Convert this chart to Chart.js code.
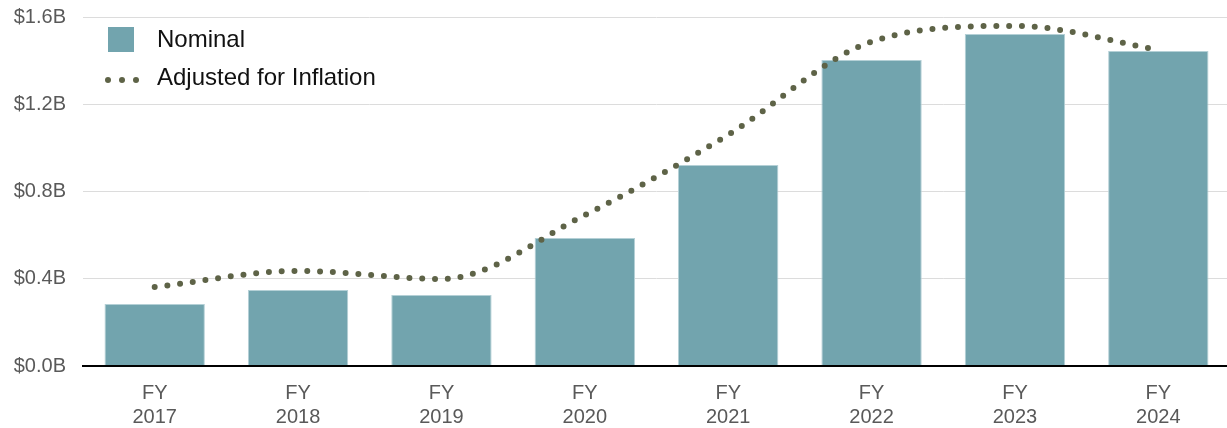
<!DOCTYPE html>
<html>
<head>
<meta charset="utf-8">
<script src="https://cdn.jsdelivr.net/npm/chart.js@4/dist/chart.umd.min.js"></script>
<style>
  html, body { margin: 0; padding: 0; background: #fff; overflow: hidden; }
  .wrap { position: relative; width: 1230px; height: 428px; }
  .legend { position: absolute; left: 0; top: 0; font-family: "Liberation Sans", Arial, sans-serif; font-size: 24px; color: #111; }
  .legend .item { position: absolute; white-space: nowrap; }
  .legend .box { position: absolute; left: 108px; top: 27px; width: 26px; height: 25px; background: #72a4ae; }
  .legend .dot { position: absolute; width: 6px; height: 6px; border-radius: 50%; background: #5e6347; }
</style>
</head>
<body>
<div class="wrap">
  <canvas id="chart" width="1230" height="428"></canvas>
  <div class="legend">
    <div class="box"></div>
    <div class="item" style="left:157px; top:25px;">Nominal</div>
    <div class="dot" style="left:105px; top:77px;"></div>
    <div class="dot" style="left:119px; top:77px;"></div>
    <div class="dot" style="left:133px; top:77px;"></div>
    <div class="item" style="left:157px; top:63px;">Adjusted for Inflation</div>
  </div>
</div>
<script>
// values in $ billions
const years = ['2017', '2018', '2019', '2020', '2021', '2022', '2023', '2024'];
const nominal = [0.284, 0.348, 0.326, 0.587, 0.922, 1.403, 1.522, 1.444];
const adjusted = [0.362, 0.436, 0.399, 0.692, 1.06, 1.487, 1.559, 1.45];
const yTicks = [0, 0.4, 0.8, 1.2, 1.6];

const labels = years.map(y => ['FY', y]);
const tickFont = { family: '"Liberation Sans", Arial, sans-serif', size: 20 };

new Chart(document.getElementById('chart'), {
  type: 'bar',
  data: {
    labels: labels,
    datasets: [
      {
        type: 'line',
        label: 'Adjusted for Inflation',
        data: adjusted,
        borderColor: '#5e6347',
        borderWidth: 6,
        borderDash: [0, 12.8],
        borderCapStyle: 'round',
        cubicInterpolationMode: 'monotone',
        pointRadius: 0,
        fill: false,
        order: 0
      },
      {
        label: 'Nominal',
        data: nominal,
        backgroundColor: '#72a4ae',
        borderColor: '#b4d0d6',
        borderWidth: 1,
        barPercentage: 0.7,
        categoryPercentage: 1,
        order: 1
      }
    ]
  },
  options: {
    responsive: false,
    animation: false,
    layout: { padding: { top: 17 } },
    plugins: {
      legend: { display: false },
      tooltip: { enabled: false }
    },
    scales: {
      x: {
        grid: { display: false, drawTicks: false },
        border: { display: true, color: '#000', width: 2 },
        ticks: { color: '#595959', font: tickFont, padding: 15, maxRotation: 0 },
        afterFit: (axis) => { axis.height = 62; }
      },
      y: {
        min: 0,
        max: 1.6,
        afterBuildTicks: (axis) => { axis.ticks = yTicks.map(v => ({ value: v })); },
        grid: {
          drawTicks: false,
          color: (c) => c.tick && c.tick.value === 0 ? '#000' : '#dcdcdc',
          lineWidth: (c) => c.tick && c.tick.value === 0 ? 2 : 1
        },
        border: { display: false },
        ticks: {
          color: '#595959',
          font: tickFont,
          padding: 17,
          callback: (v) => '$' + Number(v).toFixed(1) + 'B'
        },
        afterFit: (axis) => {
          axis.width = 83;
          axis.paddingTop = 0;
          axis.paddingBottom = 0;
        }
      }
    }
  }
});
</script>
</body>
</html>
